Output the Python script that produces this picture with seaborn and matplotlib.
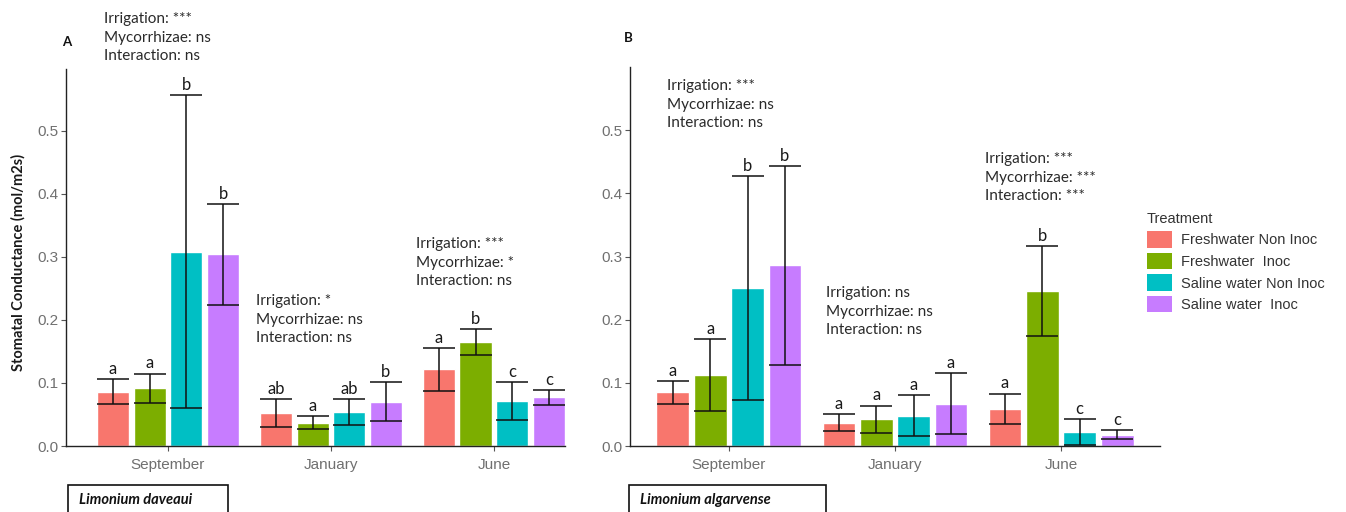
import numpy as np
import pandas as pd
import matplotlib
matplotlib.use("Agg")
import matplotlib.pyplot as plt
from matplotlib.patches import Patch, Rectangle
from matplotlib.container import BarContainer
import seaborn as sns

# ---- data -------------------------------------------------------------
months = ["September", "January", "June"]
treatments = ["Freshwater Non Inoc", "Freshwater  Inoc",
              "Saline water Non Inoc", "Saline water  Inoc"]
colors = ["#F8766D", "#7CAE00", "#00BFC4", "#C77CFF"]

# rows = months, columns = treatments
daveaui_mean = [[0.086, 0.092, 0.308, 0.304],
                [0.052, 0.037, 0.054, 0.070],
                [0.122, 0.165, 0.071, 0.077]]
daveaui_se = [[0.020, 0.023, 0.248, 0.080],
              [0.022, 0.010, 0.021, 0.031],
              [0.034, 0.020, 0.030, 0.012]]
daveaui_letters = [["a", "a", "b", "b"],
                   ["ab", "a", "ab", "b"],
                   ["a", "b", "c", "c"]]
daveaui_stats = [["Irrigation: ***", "Mycorrhizae: ns", "Interaction: ns"],
                 ["Irrigation: *", "Mycorrhizae: ns", "Interaction: ns"],
                 ["Irrigation: ***", "Mycorrhizae: *", "Interaction: ns"]]

algarvense_mean = [[0.085, 0.113, 0.250, 0.286],
                   [0.037, 0.042, 0.048, 0.067],
                   [0.059, 0.245, 0.022, 0.018]]
algarvense_se = [[0.018, 0.057, 0.177, 0.157],
                 [0.013, 0.022, 0.032, 0.048],
                 [0.024, 0.071, 0.020, 0.007]]
algarvense_letters = [["a", "a", "b", "b"],
                      ["a", "a", "a", "a"],
                      ["a", "b", "c", "c"]]
algarvense_stats = [["Irrigation: ***", "Mycorrhizae: ns", "Interaction: ns"],
                    ["Irrigation: ns", "Mycorrhizae: ns", "Interaction: ns"],
                    ["Irrigation: ***", "Mycorrhizae: ***", "Interaction: ***"]]

y_ticks = [0.0, 0.1, 0.2, 0.3, 0.4, 0.5]

# ---- style ------------------------------------------------------------
sns.set_style("ticks")
plt.rcParams["font.family"] = ["Liberation Sans", "DejaVu Sans"]

W, H = 1346, 512
fig = plt.figure(figsize=(W / 100, H / 100), dpi=100)


def fx(px):
    return px / W


def fy(py):
    return 1 - py / H


TEXT_FONT = "Lato"
TICK_COLOR = "#707070"


def draw_panel(ax, means, ses, letters, xlim, ylim):
    rows = []
    for i, m in enumerate(months):
        for j, t in enumerate(treatments):
            rows.append({"Month": m, "Treatment": t, "Conductance": means[i][j]})
    df = pd.DataFrame(rows)
    sns.barplot(data=df, x="Month", y="Conductance", hue="Treatment",
                order=months, hue_order=treatments, palette=colors,
                saturation=1, width=0.9, gap=0.12, errorbar=None,
                legend=False, ax=ax, zorder=2)
    ax.set_xlim(*xlim)
    ax.set_ylim(*ylim)

    bar_groups = [c for c in ax.containers if isinstance(c, BarContainer)]
    px_per_unit = (ax.transData.transform((1, 0))[0]
                   - ax.transData.transform((0, 0))[0])
    for j, cont in enumerate(bar_groups):
        for i, bar in enumerate(cont.patches):
            xc = bar.get_x() + bar.get_width() / 2
            m, s = means[i][j], ses[i][j]
            cap = bar.get_width() * px_per_unit * 72 / 100 / 2
            ax.errorbar(xc, m, yerr=s, fmt="none", ecolor="#111111",
                        elinewidth=1.1, capsize=cap, capthick=1.1, zorder=3)
            ax.annotate(letters[i][j], (xc, m + s), xytext=(0, 1.5),
                        textcoords="offset points", ha="center", va="bottom",
                        fontsize=12, family=TEXT_FONT, color="#1a1a1a")

    ax.set_xlabel("")
    ax.set_ylabel("")
    ax.set_yticks(y_ticks)
    ax.set_yticklabels([f"{v:.1f}" for v in y_ticks])
    ax.tick_params(axis="both", length=3.5, width=0.8, color="#555555",
                   labelcolor=TICK_COLOR, labelsize=11)
    ax.tick_params(axis="x", pad=5)
    ax.tick_params(axis="y", pad=2)
    for side in ["top", "right"]:
        ax.spines[side].set_visible(False)
    for side in ["left", "bottom"]:
        ax.spines[side].set_color("#222222")
        ax.spines[side].set_linewidth(1.0)
    ax.grid(False)
    ax.set_facecolor("white")


ax_a = fig.add_axes([fx(66), fy(446), fx(565) - fx(66), fy(69) - fy(446)])
ax_b = fig.add_axes([fx(630), fy(446), fx(1160) - fx(630), fy(67) - fy(446)])

draw_panel(ax_a, daveaui_mean, daveaui_se, daveaui_letters,
           (-0.626, 2.436), (0, 0.598))
draw_panel(ax_b, algarvense_mean, algarvense_se, algarvense_letters,
           (-0.596, 2.596), (0, 0.600))


def stat_block(x_px, y_px, lines):
    for k, line in enumerate(lines):
        fig.text(fx(x_px), fy(y_px + 18.7 * k), line, ha="left", va="center",
                 fontsize=11, family=TEXT_FONT, color="#2a2a2a")


# significance summaries per month
stat_block(104, 19, daveaui_stats[0])
stat_block(256, 301, daveaui_stats[1])
stat_block(416, 244, daveaui_stats[2])
stat_block(667, 86, algarvense_stats[0])
stat_block(826, 293, algarvense_stats[1])
stat_block(985, 159, algarvense_stats[2])

# panel tags
fig.text(fx(62), fy(42), "A", ha="left", va="center", fontsize=9.5,
         fontweight="bold", family=TEXT_FONT, color="#111111")
fig.text(fx(624), fy(38), "B", ha="left", va="center", fontsize=9.5,
         fontweight="bold", family=TEXT_FONT, color="#111111")

# y axis title
fig.text(fx(18), fy(262), "Stomatal Conductance (mol/m2s)", rotation=90,
         ha="center", va="center", fontsize=10.5, fontweight="bold",
         family=TEXT_FONT, color="#1a1a1a")

# species boxes below each panel
for x0, x1, name in [(68, 228, "Limonium daveaui"),
                     (629, 826, "Limonium algarvense")]:
    fig.patches.append(Rectangle((fx(x0), fy(530)), fx(x1) - fx(x0),
                                 fy(485) - fy(530), transform=fig.transFigure,
                                 fill=False, edgecolor="#111111", linewidth=1.2))
    fig.text(fx(x0 + 11), fy(500), name, ha="left", va="center",
             fontsize=10.5, fontweight="bold", fontstyle="italic",
             family=TEXT_FONT, color="#111111")

# legend
handles = [Patch(facecolor=c, edgecolor="none") for c in colors]
leg = fig.legend(handles, treatments, title="Treatment", loc="upper left",
                 bbox_to_anchor=(fx(1147), fy(212)), frameon=False,
                 fontsize=10.5, title_fontsize=10.5, handlelength=1.7,
                 handleheight=1.35, labelspacing=0.36, handletextpad=0.6,
                 borderpad=0, borderaxespad=0, alignment="left")
for t in leg.get_texts():
    t.set_color("#333333")
leg.get_title().set_color("#333333")

fig.savefig("out.png", dpi=100, facecolor="white")
